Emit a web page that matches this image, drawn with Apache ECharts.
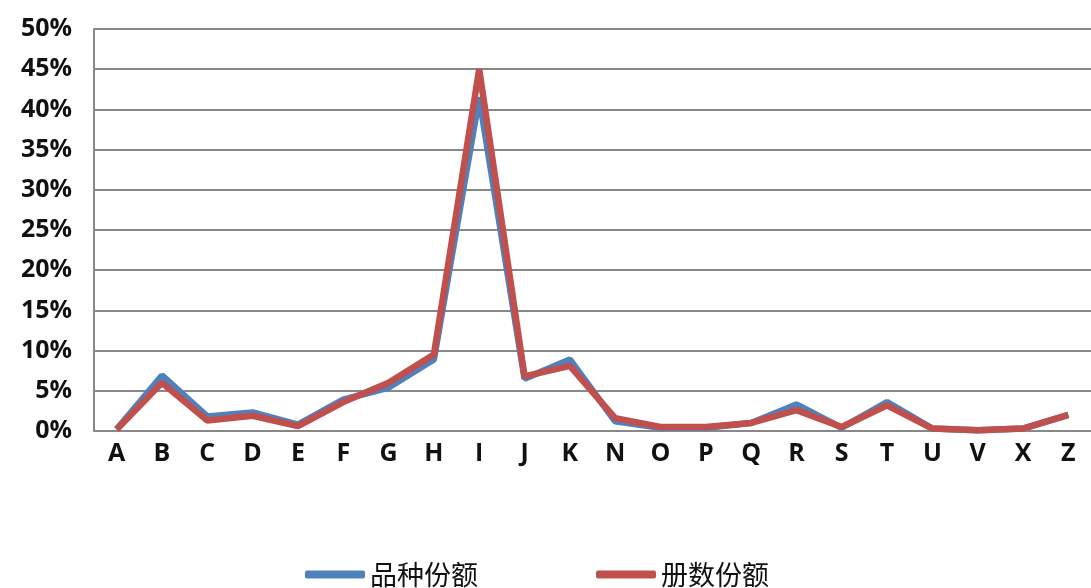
<!DOCTYPE html>
<html><head><meta charset="utf-8">
<script src="https://cdn.jsdelivr.net/npm/echarts@6/dist/echarts.min.js"></script>
<style>html,body{margin:0;padding:0;background:#fff}#c{width:1091px;height:588px}</style>
</head><body><div id="c"></div>
<script>
const categories = ['A','B','C','D','E','F','G','H','I','J','K','N','O','P','Q','R','S','T','U','V','X','Z'];
const varietyShare = [0.2,6.9,1.8,2.3,0.8,3.9,5.4,8.9,41.5,6.5,8.9,1.2,0.4,0.4,1.0,3.3,0.4,3.6,0.3,0.1,0.3,2.0];
const volumeShare  = [0.2,6.0,1.3,1.9,0.6,3.6,6.0,9.5,45.0,6.8,8.1,1.6,0.5,0.5,1.0,2.6,0.5,3.2,0.3,0.1,0.3,2.0];
const seriesNames = ['品种份额','册数份额'];
const chart = echarts.init(document.getElementById('c'));
const labelFont = {fontFamily:'Open Sans, Liberation Sans, sans-serif', fontWeight:'bold', fontSize:25, color:'#111'};
chart.setOption({
  animation:false,
  grid:{left:94, top:29, width:1001, height:402, containLabel:false},
  legend:{
    left:300, top:556, itemWidth:60, itemHeight:8, itemGap:118,
    icon:'roundRect',
    textStyle:{fontFamily:'Noto Sans CJK SC', fontSize:27, color:'#111'},
    data:seriesNames
  },
  xAxis:{type:'category', data:categories, boundaryGap:true,
    axisLine:{lineStyle:{color:'#888', width:2}}, axisTick:{show:false},
    axisLabel:Object.assign({margin:10, interval:0}, labelFont)},
  yAxis:{type:'value', min:0, max:50, interval:5,
    axisLine:{show:true, lineStyle:{color:'#888', width:2}}, axisTick:{show:false},
    splitLine:{lineStyle:{color:'#888', width:2}},
    axisLabel:Object.assign({margin:22, formatter:'{value}%'}, labelFont)},
  series:[
    {name:seriesNames[0], type:'line', data:varietyShare, symbol:'none', lineStyle:{color:'#4F81BD', width:6.5}, itemStyle:{color:'#4F81BD'}},
    {name:seriesNames[1], type:'line', data:volumeShare, symbol:'none', lineStyle:{color:'#C0504D', width:6.5}, itemStyle:{color:'#C0504D'}}
  ]
});
</script></body></html>
